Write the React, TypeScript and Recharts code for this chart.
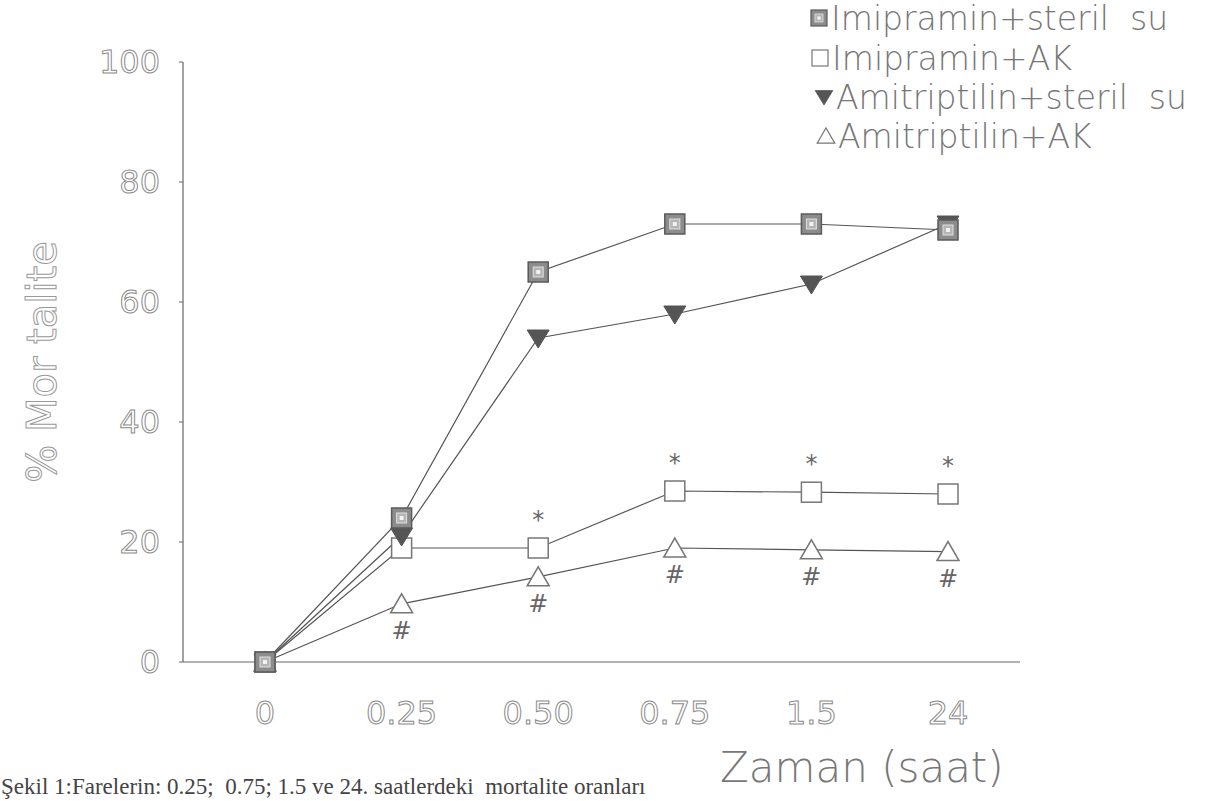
import { LineChart, Line, XAxis, YAxis, LabelList } from "recharts";

const times = ["0", "0.25", "0.50", "0.75", "1.5", "24"];
const imipSu = [0, 24, 65, 73, 73, 72];
const imipAk = [0, 19, 19, 28.5, 28.3, 28];
const amiSu = [0, 21, 54, 58, 63, 73];
const amiAk = [0, 9.7, 14.2, 19, 18.7, 18.4];
const starMarks = ["", "", "*", "*", "*", "*"];
const hashMarks = ["", "#", "#", "#", "#", "#"];
const yTicks = [0, 20, 40, 60, 80, 100];

const data = times.map((t, i) => ({
  time: t,
  imipSu: imipSu[i],
  imipAk: imipAk[i],
  amiSu: amiSu[i],
  amiAk: amiAk[i],
  star: starMarks[i],
  hash: hashMarks[i],
}));

const FONT = "'DejaVu Sans', sans-serif";
const LINE = "#555";

// marker shapes
const FilledSquare = ({ cx, cy }: any) => (
  <g>
    <rect x={cx - 10} y={cy - 10} width={20} height={20} fill="#8c8c8c" stroke="#5a5a5a" strokeWidth={1.5} />
    <rect x={cx - 5} y={cy - 5} width={10} height={10} fill="#b5b5b5" stroke="#e0e0e0" strokeWidth={1} />
    <rect x={cx - 2} y={cy - 2} width={4} height={4} fill="#f2f2f2" />
  </g>
);

const OpenSquare = ({ cx, cy }: any) => (
  <rect x={cx - 10} y={cy - 10} width={20} height={20} fill="#fff" stroke="#777" strokeWidth={1.5} />
);

const DownTriangle = ({ cx, cy }: any) => (
  <path d={`M${cx - 11},${cy - 8} L${cx + 11},${cy - 8} L${cx},${cy + 10} Z`} fill="#555" stroke="#555" />
);

const UpTriangle = ({ cx, cy }: any) => (
  <path d={`M${cx - 11},${cy + 9} L${cx + 11},${cy + 9} L${cx},${cy - 10} Z`} fill="#fff" stroke="#777" strokeWidth={1.5} />
);

const YTick = ({ x, y, payload }: any) => (
  <text
    x={x}
    y={y}
    textAnchor="end"
    dominantBaseline="central"
    fontFamily={FONT}
    fontSize={32}
    fill="#fff"
    stroke="#8a8a8a"
    strokeWidth={1}
  >
    {payload.value}
  </text>
);

const XTick = ({ x, y, payload }: any) => (
  <text
    x={x}
    y={y + 43}
    textAnchor="middle"
    dominantBaseline="central"
    fontFamily={FONT}
    fontSize={32}
    fill="#fff"
    stroke="#8a8a8a"
    strokeWidth={1}
  >
    {payload.value}
  </text>
);

const YLabel = ({ viewBox }: any) => {
  const cx = viewBox.x + 42;
  const cy = viewBox.y + viewBox.height / 2;
  return (
    <text
      x={cx}
      y={cy}
      transform={`rotate(-90, ${cx}, ${cy})`}
      textAnchor="middle"
      dominantBaseline="central"
      fontFamily={FONT}
      fontSize={40}
      fill="#fff"
      stroke="#999"
      strokeWidth={1}
    >
      % Mor talite
    </text>
  );
};

const renderStar = ({ x, y, value }: any) =>
  value ? (
    <text x={x} y={y - 28} textAnchor="middle" dominantBaseline="central" fontFamily={FONT} fontSize={24} fill="#666">
      {value}
    </text>
  ) : null;

const renderHash = ({ x, y, value }: any) =>
  value ? (
    <text x={x} y={y + 27} textAnchor="middle" dominantBaseline="central" fontFamily={FONT} fontSize={24} fontStyle="italic" fill="#666">
      {value}
    </text>
  ) : null;

const legendItems = [
  { label: "Imipramin+steril  su", Shape: FilledSquare, left: 820, top: 18 },
  { label: "Imipramin+AK", Shape: OpenSquare, left: 821, top: 58 },
  { label: "Amitriptilin+steril  su", Shape: DownTriangle, left: 825, top: 97 },
  { label: "Amitriptilin+AK", Shape: UpTriangle, left: 827, top: 136 },
];

const LegendBox = () => (
  <>
    {legendItems.map((item) => (
      <div
        key={item.label}
        style={{
          position: "absolute",
          left: item.left - 12,
          top: item.top - 20,
          height: 40,
          display: "flex",
          alignItems: "center",
          whiteSpace: "pre",
          fontFamily: FONT,
          fontSize: 33,
          fontWeight: 200,
          color: "#777",
        }}
      >
        <svg width={22} height={22} style={{ marginRight: 1 }}>
          <g transform="translate(11,11) scale(0.8) translate(-11,-11)">
            <item.Shape cx={11} cy={11} />
          </g>
        </svg>
        {item.label}
      </div>
    ))}
  </>
);

export default function App() {
  return (
    <div style={{ position: "absolute", left: 0, top: 0, width: 1219, height: 801, background: "#fff", overflow: "hidden" }}>
      <LineChart width={1219} height={801} data={data} margin={{ top: 62, right: 199, bottom: 109, left: 0 }}>
        <XAxis
          dataKey="time"
          padding={{ left: 82, right: 72 }}
          axisLine={{ stroke: "#666", strokeWidth: 1.2 }}
          tickLine={false}
          tick={<XTick />}
          interval={0}
        />
        <YAxis
          width={183}
          domain={[0, 100]}
          ticks={yTicks}
          interval={0}
          axisLine={{ stroke: "#666", strokeWidth: 1.2 }}
          tickLine={{ stroke: "#666" }}
          tickSize={4}
          tickMargin={19}
          tick={<YTick />}
          label={<YLabel />}
        />
        <Line dataKey="amiAk" stroke={LINE} strokeWidth={1.2} dot={<UpTriangle />} isAnimationActive={false}>
          <LabelList dataKey="hash" content={renderHash} />
        </Line>
        <Line dataKey="imipAk" stroke={LINE} strokeWidth={1.2} dot={<OpenSquare />} isAnimationActive={false}>
          <LabelList dataKey="star" content={renderStar} />
        </Line>
        <Line dataKey="amiSu" stroke={LINE} strokeWidth={1.2} dot={<DownTriangle />} isAnimationActive={false} />
        <Line dataKey="imipSu" stroke={LINE} strokeWidth={1.2} dot={<FilledSquare />} isAnimationActive={false} />
      </LineChart>
      <LegendBox />
      <div
        style={{
          position: "absolute",
          left: 720,
          top: 743,
          fontFamily: FONT,
          fontSize: 42,
          fontWeight: 200,
          color: "#777",
          whiteSpace: "pre",
        }}
      >
        Zaman (saat)
      </div>
      <div
        style={{
          position: "absolute",
          left: 1,
          top: 775,
          lineHeight: 1,
          fontFamily: "'Liberation Serif', serif",
          fontSize: 23,
          color: "#444",
          whiteSpace: "pre",
        }}
      >
        Şekil 1:Farelerin: 0.25;  0.75; 1.5 ve 24. saatlerdeki  mortalite oranları
      </div>
    </div>
  );
}
